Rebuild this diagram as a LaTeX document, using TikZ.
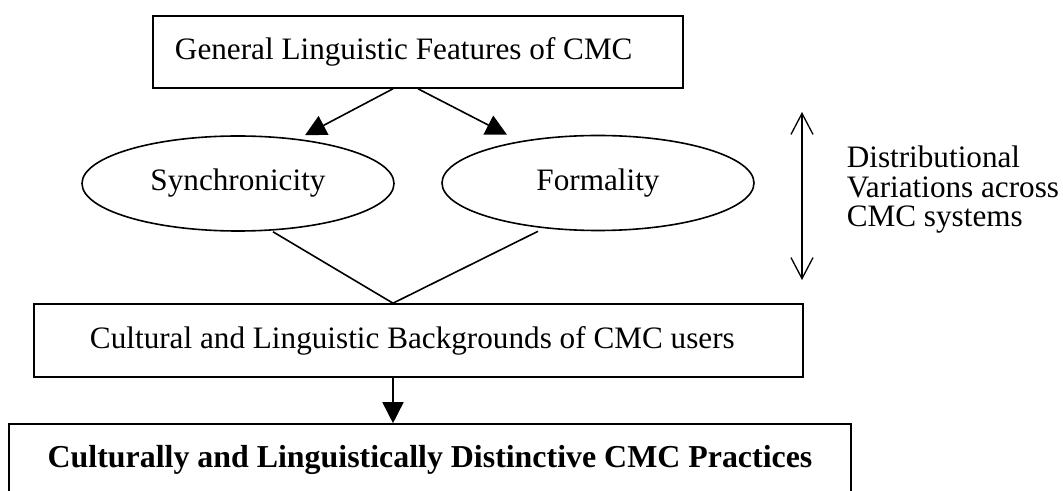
\documentclass[tikz,border=0pt]{standalone}
\usepackage{fontspec}
\setmainfont{Liberation Serif}
\usetikzlibrary{arrows.meta,shapes.geometric}
\begin{document}
\begin{tikzpicture}[x=1bp,y=-1bp, line width=1.6bp,
  every node/.style={font=\fontsize{31.2bp}{29.5bp}\selectfont},
  box/.style={draw, rectangle, inner ysep=0pt},
  oval/.style={draw, ellipse, minimum width=312bp, minimum height=95bp, inner sep=0pt},
  arr/.style={-{Triangle[width=21bp,length=21bp]}},
  dbl/.style={{Straight Barb[width=22bp,length=21bp]}-{Straight Barb[width=22bp,length=21bp]}}]
\useasboundingbox (0,0) rectangle (1063,491);
\clip (0,0) rectangle (1063,491);

\node[box, minimum height=72bp, inner xsep=22bp] (top) at (418,52) {\makebox[486bp][l]{General Linguistic Features of CMC}};
\node[oval] (sync) at (238,183.5) {Synchronicity};
\node[oval] (form) at (598,183) {Formality};
\node[box, minimum height=73bp, inner xsep=56bp] (mid) at (418.5,340.5) {\makebox[657bp][l]{Cultural and Linguistic Backgrounds of CMC users}};
\node[box, minimum height=72bp, inner xsep=0bp, font=\fontsize{31.9bp}{29.5bp}\selectfont\bfseries] (bot) at (430,460) {\makebox[842bp][c]{Culturally and Linguistically Distinctive CMC Practices}};

\draw[arr] ([xshift=-25bp]top.south) -- ([xshift=67bp]sync.north);
\draw[arr] (top.south) -- ([xshift=-91bp]form.north);
\draw ([xshift=35bp]sync.south) -- ([xshift=-25.5bp]mid.north);
\draw ([xshift=-60bp]form.south) -- ([xshift=-25.5bp]mid.north);
\draw[arr] ([xshift=-25.5bp]mid.south) -- ([xshift=-37bp]bot.north);

\coordinate (dtop) at (802,112);
\coordinate (dbot) at (802,280);
\draw[dbl, line width=1.3bp] (dtop) -- (dbot);
\node[anchor=base west, align=left, inner sep=0pt] (dist) at (846,227) {Distributional\\Variations across\\CMC systems};
\end{tikzpicture}
\end{document}
